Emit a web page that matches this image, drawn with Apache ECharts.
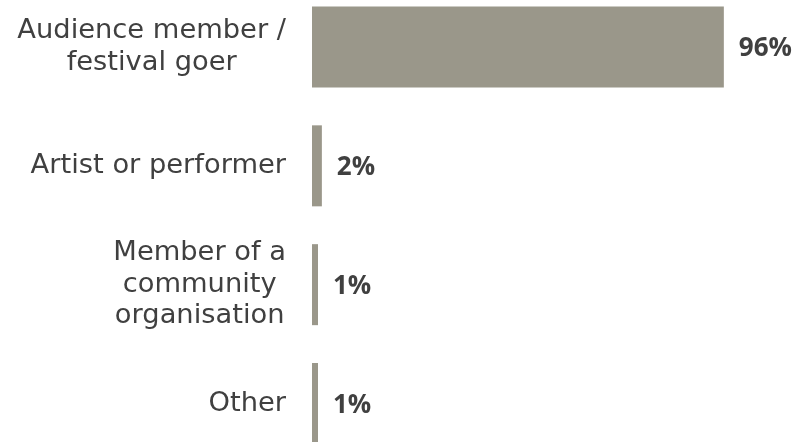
<!DOCTYPE html>
<html>
<head>
<meta charset="utf-8">
<script src="https://cdn.jsdelivr.net/npm/echarts@6/dist/echarts.min.js"></script>
<style>
  html, body { margin: 0; padding: 0; background: #fff; }
  #chart { width: 801px; height: 442px; }
</style>
</head>
<body>
<div id="chart"></div>
<script>
const categories = [
  'Audience member /\nfestival goer',
  'Artist or performer',
  'Member of a\ncommunity\norganisation',
  'Other',
]
// share of respondents (%), bar lengths
const shares = [96, 2.3, 1.4, 1.4]

const labelFont = {
  color: '#404040',
  fontFamily: 'DejaVu Sans',
  fontSize: 27.3,
  lineHeight: 31.5,
}

const chart = echarts.init(document.getElementById('chart'))
chart.setOption({
  backgroundColor: '#ffffff',
  animation: false,
  // boundaryGap off so the first/last bars sit on the grid edges,
  // which lets the bottom bar run off the canvas like the original
  grid: { left: 312, right: 60, top: 47, bottom: 38.5 },
  xAxis: {
    type: 'value',
    min: 0,
    max: 100,
    show: false,
  },
  yAxis: {
    type: 'category',
    data: categories,
    inverse: true,
    boundaryGap: false,
    axisLine: { show: false },
    axisTick: { show: false },
    splitLine: { show: false },
    axisLabel: {
      margin: 26,
      align: 'right',
      ...labelFont,
      // block is right aligned, lines inside it are centred
      formatter: (v) => v.split('\n').map((l) => '{c|' + l + '}').join('\n'),
      rich: { c: { ...labelFont, align: 'center' } },
    },
  },
  series: [
    {
      type: 'bar',
      data: shares,
      barWidth: 81,
      clip: false,
      itemStyle: { color: '#9a978a' },
      label: {
        show: true,
        position: 'right',
        distance: 15,
        offset: [0, 2],
        color: '#404040',
        fontFamily: 'Open Sans',
        fontWeight: 'bold',
        fontSize: 26,
        formatter: (p) => Math.round(p.value) + '%',
      },
    },
  ],
})
</script>
</body>
</html>
